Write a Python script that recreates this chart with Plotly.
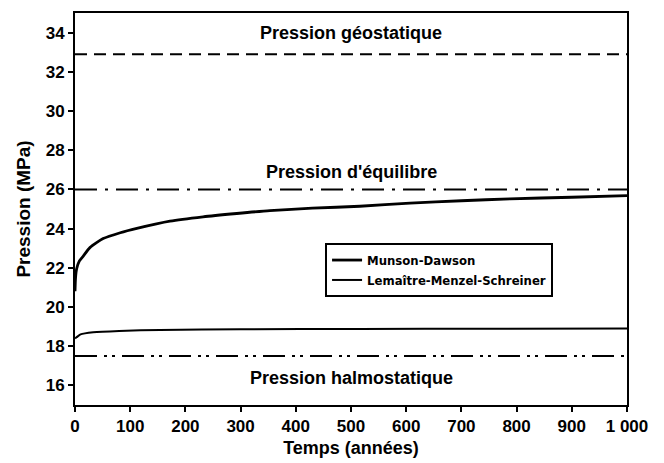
import plotly.graph_objects as go

# Data
md_t = [0, 1, 3, 8, 15, 27, 51, 82, 112, 172, 232, 293, 353, 430, 516, 607, 700, 788, 900, 1000]
md_p = [20.8, 21.5, 21.95, 22.35, 22.6, 23.03, 23.49, 23.79, 24.01, 24.38, 24.6, 24.77, 24.92,
        25.04, 25.14, 25.3, 25.42, 25.52, 25.6, 25.68]

lms_t = [0, 3, 10, 33, 80, 154, 300, 516, 750, 1000]
lms_p = [18.4, 18.46, 18.6, 18.71, 18.78, 18.83, 18.86, 18.88, 18.89, 18.9]

ref_names = ["Pression géostatique", "Pression d'équilibre", "Pression halmostatique"]
ref_values = [32.9, 26.0, 17.5]
ref_label_y = [34.0, 26.9, 16.4]
ref_x = [0, 1000]

x_ticks = [0, 100, 200, 300, 400, 500, 600, 700, 800, 900, 1000]
x_ticktext = ["0", "100", "200", "300", "400", "500", "600", "700", "800", "900", "1 000"]
y_ticks = [16, 18, 20, 22, 24, 26, 28, 30, 32, 34]

FONT = "Liberation Sans, Arial, sans-serif"
NARROW = "Liberation Sans Narrow, Arial Narrow, DejaVu Sans Condensed, Liberation Sans, sans-serif"

dashes = ["12px,7px", "22px,8px,3px,8px", "22px,7px,3px,5px,3px,7px"]

fig = go.Figure()
for name, val, dash in zip(ref_names, ref_values, dashes):
    fig.add_trace(go.Scatter(x=ref_x, y=[val, val], mode="lines", showlegend=False,
                             line=dict(color="black", width=2, dash=dash), hoverinfo="skip"))

fig.add_trace(go.Scatter(x=md_t, y=md_p, mode="lines", name="<b>Munson-Dawson</b>",
                         line=dict(color="black", width=2.8, shape="spline", smoothing=0.6)))
fig.add_trace(go.Scatter(x=lms_t, y=lms_p, mode="lines", name="<b>Lemaître-Menzel-Schreiner</b>",
                         line=dict(color="black", width=2, shape="spline", smoothing=0.6)))

for name, ly in zip(ref_names, ref_label_y):
    fig.add_annotation(x=500, y=ly, text="<b>" + name + "</b>", showarrow=False,
                       font=dict(family=FONT, size=18, color="black"))

fig.update_layout(
    width=664, height=463,
    margin=dict(l=75, r=37, t=13, b=58),
    paper_bgcolor="white", plot_bgcolor="white",
    font=dict(family=FONT, size=17, color="black"),
    legend=dict(x=0.453, y=0.413, xanchor="left", yanchor="top",
                bordercolor="black", borderwidth=2, bgcolor="white",
                font=dict(family=NARROW, size=13, color="black"),
                tracegroupgap=0, itemwidth=30),
    showlegend=True,
)
fig.update_xaxes(range=[0, 1000], tickvals=x_ticks, ticktext=["<b>%s</b>" % t for t in x_ticktext],
                 showgrid=False, zeroline=False, showline=True, linecolor="black", linewidth=2,
                 mirror=True, ticks="outside", ticklen=5, tickwidth=2, tickcolor="black",
                 tickfont=dict(family=FONT, size=17), automargin=False,
                 title=dict(text="<b>Temps (années)</b>", font=dict(family=FONT, size=18), standoff=6))
fig.update_yaxes(range=[15, 35], tickvals=y_ticks, ticktext=["<b>%d</b>" % t for t in y_ticks],
                 showgrid=False, zeroline=False, showline=True, linecolor="black", linewidth=2,
                 mirror=True, ticks="outside", ticklen=5, tickwidth=2, tickcolor="black",
                 tickfont=dict(family=FONT, size=17), automargin=False,
                 title=dict(text="<b>Pression (MPa)</b>", font=dict(family=FONT, size=19), standoff=10))

fig.write_html("out.html", config={"displayModeBar": False},
               post_script="document.body.style.margin='0';document.body.style.overflow='hidden';")
